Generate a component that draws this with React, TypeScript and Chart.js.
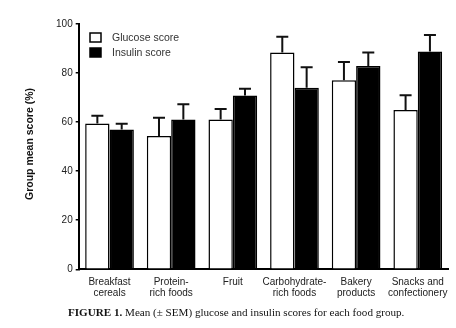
import React, { useEffect, useRef } from 'react';
import { Chart, registerables } from 'chart.js';

Chart.register(...registerables);

const categories: string[][] = [
  ['Breakfast', 'cereals'],
  ['Protein-', 'rich foods'],
  ['Fruit'],
  ['Carbohydrate-', 'rich foods'],
  ['Bakery', 'products'],
  ['Snacks and', 'confectionery'],
];
const glucoseScores = [59.4, 54.3, 61.1, 88.4, 77.1, 64.9];
const glucoseSem = [3.2, 7.5, 4.2, 6.4, 7.4, 6.1];
const insulinScores = [57.0, 61.1, 70.9, 74.0, 82.9, 88.8];
const insulinSem = [2.3, 6.2, 2.7, 8.4, 5.5, 6.7];
const seriesNames = ['Glucose score', 'Insulin score'];
const yTitle = 'Group mean score (%)';

const SANS = '"Liberation Sans", Arial, Helvetica, sans-serif';

const errorBarPlugin = {
  id: 'errorBars',
  afterDatasetsDraw(chart: any) {
    const ctx = chart.ctx;
    const yScale = chart.scales.y;
    const sems = [glucoseSem, insulinSem];
    const vals = [glucoseScores, insulinScores];
    ctx.save();
    ctx.strokeStyle = '#111';
    ctx.lineWidth = 2;
    chart.data.datasets.forEach((_: any, i: number) => {
      const meta = chart.getDatasetMeta(i);
      meta.data.forEach((bar: any, j: number) => {
        const x = bar.x;
        const y0 = bar.y;
        const y1 = yScale.getPixelForValue(vals[i][j] + sems[i][j]);
        ctx.beginPath();
        ctx.moveTo(x, y0);
        ctx.lineTo(x, y1);
        ctx.moveTo(x - 6, y1);
        ctx.lineTo(x + 6, y1);
        ctx.stroke();
      });
    });
    ctx.restore();
  },
};

const decorPlugin = {
  id: 'decor',
  afterDraw(chart: any) {
    const ctx = chart.ctx;
    ctx.save();
    const boxes = [
      { y: 33, fill: '#fff' },
      { y: 48, fill: '#000' },
    ];
    boxes.forEach((b, i) => {
      ctx.fillStyle = b.fill;
      ctx.fillRect(90, b.y, 11, 9);
      ctx.strokeStyle = '#000';
      ctx.lineWidth = 1.5;
      ctx.strokeRect(90, b.y, 11, 9);
      ctx.fillStyle = '#333';
      ctx.font = `10.5px ${SANS}`;
      ctx.textAlign = 'left';
      ctx.textBaseline = 'middle';
      ctx.fillText(seriesNames[i], 112, b.y + 5);
    });
    ctx.translate(30, 144);
    ctx.rotate(-Math.PI / 2);
    ctx.fillStyle = '#111';
    ctx.font = `bold 10.5px ${SANS}`;
    ctx.textAlign = 'center';
    ctx.textBaseline = 'middle';
    ctx.fillText(yTitle, 0, 0);
    ctx.restore();
  },
};

export default function App() {
  const ref = useRef<HTMLCanvasElement | null>(null);

  useEffect(() => {
    if (!ref.current) return;
    const chart = new Chart(ref.current, {
      type: 'bar',
      data: {
        labels: categories as any,
        datasets: [
          {
            label: seriesNames[0],
            data: glucoseScores,
            backgroundColor: '#ffffff',
            borderColor: '#000000',
            borderWidth: 1.5,
            categoryPercentage: 0.79,
            barPercentage: 1.0,
          },
          {
            label: seriesNames[1],
            data: insulinScores,
            backgroundColor: '#000000',
            borderColor: '#000000',
            borderWidth: 1.5,
            categoryPercentage: 0.79,
            barPercentage: 1.0,
          },
        ],
      },
      options: {
        animation: false,
        responsive: false,
        maintainAspectRatio: false,
        devicePixelRatio: 1,
        layout: { padding: { top: 24, right: 6, left: 0, bottom: 0 } },
        plugins: {
          legend: { display: false },
          tooltip: { enabled: false },
        },
        scales: {
          x: {
            grid: { display: false, drawTicks: false },
            border: { display: true, color: '#000', width: 2 },
            ticks: {
              color: '#222',
              font: { family: SANS, size: 10, lineHeight: 1.07 },
              padding: 8,
              maxRotation: 0,
              autoSkip: false,
            },
            afterFit: (s: any) => {
              s.height = 58.7;
            },
          },
          y: {
            min: 0,
            max: 100,
            grid: { drawOnChartArea: false, drawTicks: true, tickLength: 3, color: '#000', lineWidth: 1.5 },
            border: { display: true, color: '#000', width: 2 },
            ticks: {
              stepSize: 20,
              color: '#222',
              font: { family: SANS, size: 10 },
              padding: 3,
            },
            afterFit: (s: any) => {
              s.width = 78.7;
            },
          },
        },
      },
      plugins: [errorBarPlugin, decorPlugin],
    });
    return () => chart.destroy();
  }, []);

  return (
    <div style={{ position: 'fixed', left: 0, top: 0, width: 456, height: 328, background: '#fff' }}>
      <canvas ref={ref} width={456} height={328} style={{ position: 'absolute', left: 0, top: 0 }} />
      <div
        style={{
          position: 'absolute',
          left: 68,
          top: 306,
          whiteSpace: 'nowrap',
          fontFamily: '"Liberation Serif", "Times New Roman", serif',
          fontSize: 11.1,
          lineHeight: '13px',
          color: '#111',
        }}
      >
        <b>FIGURE 1.</b> Mean (± SEM) glucose and insulin scores for each food group.
      </div>
    </div>
  );
}
